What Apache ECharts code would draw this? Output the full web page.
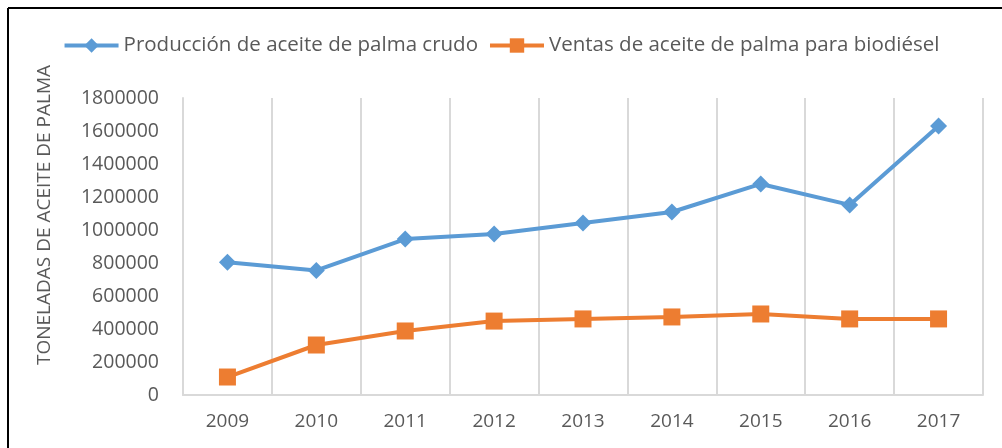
<!DOCTYPE html>
<html>
<head>
<meta charset="utf-8">
<script src="https://cdn.jsdelivr.net/npm/echarts@6/dist/echarts.min.js"></script>
<style>
html,body{margin:0;padding:0;background:#fff;}
#main{width:1002px;height:448px;}
</style>
</head>
<body>
<div id="main"></div>
<script>
// datos
var years = ['2009','2010','2011','2012','2013','2014','2015','2016','2017'];
var produccion = [805000, 755000, 945000, 976000, 1042000, 1109000, 1279000, 1152000, 1630000];
var ventas = [109000, 303000, 388000, 448000, 461000, 473000, 491000, 461000, 461000];
var yTicks = [0, 1800000, 200000]; // min, max, interval
var yTitle = 'TONELADAS DE ACEITE DE PALMA';

var font = 'Open Sans';
var gris = '#595959';
var linea = '#D9D9D9';

var myChart = echarts.init(document.getElementById('main'));
option = {
    animation: false,
    backgroundColor: '#fff',
    textStyle: {fontFamily: font},
    legend: {
        top: 30,
        left: 'center',
        itemWidth: 54,
        itemHeight: 18,
        itemGap: 10,
        lineStyle: {width: 4},
        textStyle: {fontSize: 20.5, color: gris, fontFamily: font},
        data: ['Producción de aceite de palma crudo', 'Ventas de aceite de palma para biodiésel']
    },
    grid: {left: 183, right: 19, top: 98, bottom: 53},
    xAxis: {
        type: 'category',
        data: years,
        boundaryGap: true,
        axisTick: {show: false},
        axisLine: {lineStyle: {color: linea, width: 2}},
        splitLine: {show: true, lineStyle: {color: linea, width: 2}},
        axisLabel: {color: gris, fontSize: 19, margin: 17, fontFamily: font}
    },
    yAxis: {
        type: 'value',
        min: yTicks[0],
        max: yTicks[1],
        interval: yTicks[2],
        splitLine: {show: false},
        axisTick: {show: false},
        axisLine: {show: true, lineStyle: {color: linea, width: 2}},
        axisLabel: {
            color: gris, fontSize: 19.5, margin: 24, fontFamily: font,
            formatter: function (v) { return String(v); }
        }
    },
    graphic: [
        {type: 'line', shape: {x1: 8, y1: 8, x2: 1002, y2: 8}, style: {stroke: '#000', lineWidth: 2}},
        {type: 'line', shape: {x1: 8, y1: 8, x2: 8, y2: 448}, style: {stroke: '#000', lineWidth: 2}},
        {
            type: 'text', x: 45, y: 215, rotation: Math.PI / 2,
            style: {text: yTitle, fill: gris, font: '19px "' + font + '"', align: 'center', verticalAlign: 'middle'}
        }
    ],
    series: [{
        name: 'Producción de aceite de palma crudo',
        type: 'line',
        data: produccion,
        symbol: 'diamond',
        symbolSize: 17,
        itemStyle: {color: '#5B9BD5'},
        lineStyle: {color: '#5B9BD5', width: 4}
    }, {
        name: 'Ventas de aceite de palma para biodiésel',
        type: 'line',
        data: ventas,
        symbol: 'rect',
        symbolSize: 17,
        itemStyle: {color: '#ED7D31'},
        lineStyle: {color: '#ED7D31', width: 4}
    }]
};
myChart.setOption(option);
</script>
</body>
</html>
